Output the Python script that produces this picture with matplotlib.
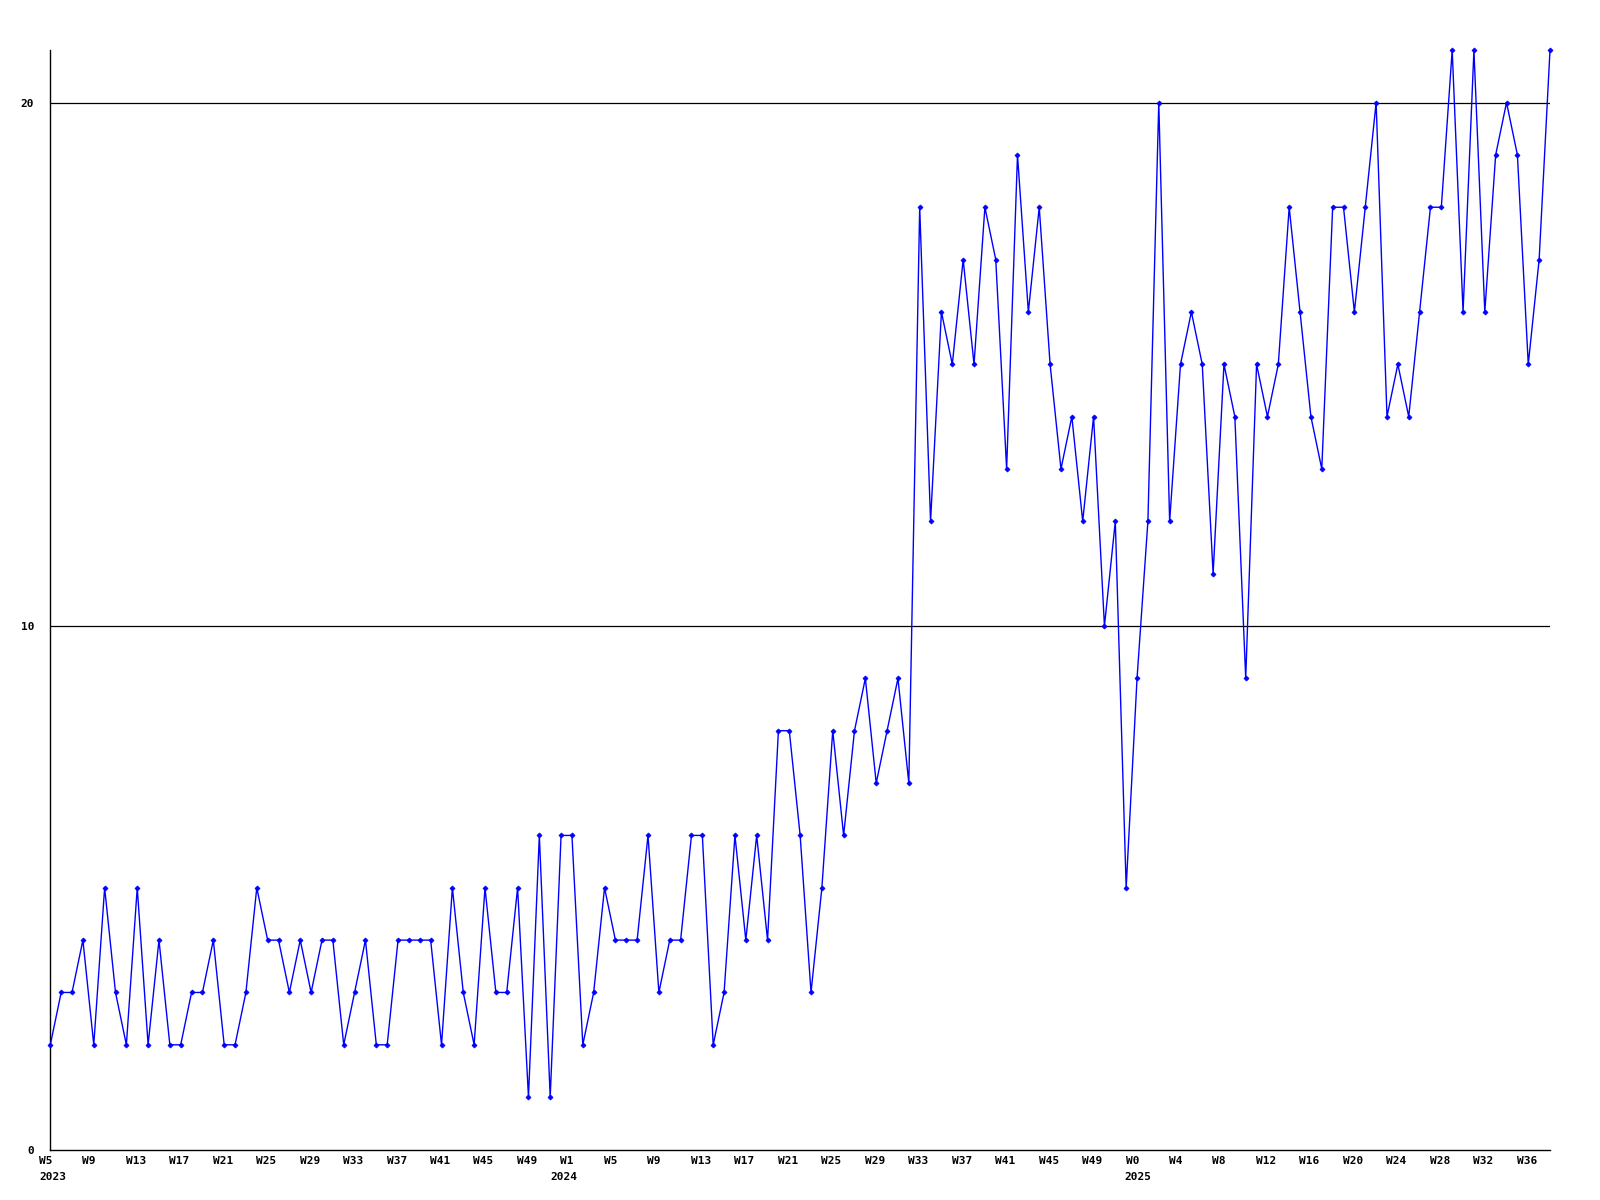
import matplotlib
matplotlib.use("Agg")
import matplotlib.pyplot as plt
from matplotlib.transforms import ScaledTranslation

# weekly values, 2023 W5 .. 2025 W38
values_2023 = [2, 3, 3, 4, 2, 5, 3, 2, 5, 2, 4, 2, 2, 3, 3, 4, 2, 2, 3, 5,
               4, 4, 3, 4, 3, 4, 4, 2, 3, 4, 2, 2, 4, 4, 4, 4, 2, 5, 3, 2,
               5, 3, 3, 5, 1, 6, 1, 6]
values_2024 = [6, 2, 3, 5, 4, 4, 4, 6, 3, 4, 4, 6, 6, 2, 3, 6, 4, 6, 4, 8,
               8, 6, 3, 5, 8, 6, 8, 9, 7, 8, 9, 7, 18, 12, 16, 15, 17, 15, 18, 17,
               13, 19, 16, 18, 15, 13, 14, 12, 14, 10, 12, 5]
values_2025 = [9, 12, 20, 12, 15, 16, 15, 11, 15, 14, 9, 15, 14, 15, 18, 16, 14, 13, 18, 18,
               16, 18, 20, 14, 15, 14, 16, 18, 18, 21, 16, 21, 16, 19, 20, 19, 15, 17, 21]
values = values_2023 + values_2024 + values_2025

week_labels = ["W5", "W9", "W13", "W17", "W21", "W25", "W29", "W33", "W37", "W41", "W45", "W49",
               "W1", "W5", "W9", "W13", "W17", "W21", "W25", "W29", "W33", "W37", "W41", "W45", "W49",
               "W0", "W4", "W8", "W12", "W16", "W20", "W24", "W28", "W32", "W36"]
year_labels = {0: "2023", 12: "2024", 25: "2025"}
year_offsets_px = {0: -11.0, 12: -22.0, 25: -12.3}
y_ticks = [0, 10, 20]

fig = plt.figure(figsize=(16, 12), dpi=100)
ax = fig.add_axes([50.3 / 1600, 50.5 / 1200, 1499.7 / 1600, 1099.3 / 1200])

x = list(range(len(values)))
ax.plot(x, values, color="#0000ff", linewidth=1.0, marker="D", markersize=2.6,
        markeredgewidth=0.5, clip_on=False, zorder=3)

ax.set_xlim(0, len(values) - 1)
ax.set_ylim(0, 21)

for yv in [10, 20]:
    ax.axhline(yv, color="black", linewidth=0.9, zorder=1)

for s in ["top", "right"]:
    ax.spines[s].set_visible(False)
for s in ["left", "bottom"]:
    ax.spines[s].set_color("black")
    ax.spines[s].set_linewidth(1.0)

font = dict(family="DejaVu Sans Mono", fontweight="bold", fontsize=8)

ax.set_yticks(y_ticks)
ax.set_yticklabels([str(v) for v in y_ticks], **font)
ax.tick_params(axis="y", length=0, pad=11.5)
ax.set_xticks([])

trans_w = ax.get_xaxis_transform() + ScaledTranslation(-11.5 / 100, -11.5 / 100, fig.dpi_scale_trans)
for k, lab in enumerate(week_labels):
    xi = k * 4
    ax.text(xi, 0, lab, transform=trans_w, ha="left", va="center", clip_on=False, **font)
    if k in year_labels:
        trans_y = ax.get_xaxis_transform() + ScaledTranslation(year_offsets_px[k] / 100, -27.5 / 100,
                                                               fig.dpi_scale_trans)
        ax.text(xi, 0, year_labels[k], transform=trans_y, ha="left", va="center", clip_on=False, **font)

fig.savefig("out.png", dpi=100, facecolor="white")
